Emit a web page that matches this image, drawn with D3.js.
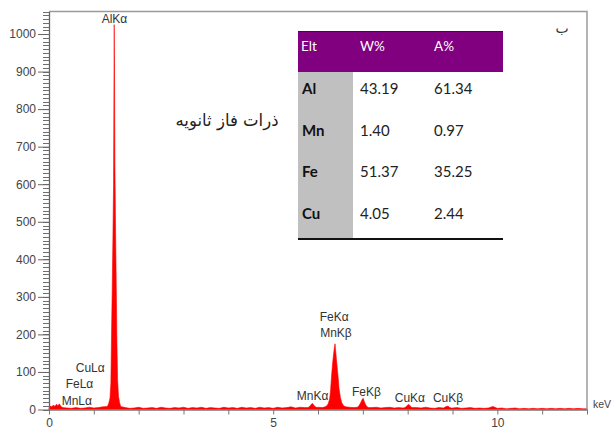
<!DOCTYPE html>
<html>
<head>
<meta charset="utf-8">
<script src="https://cdn.jsdelivr.net/npm/d3@7"></script>
<style>
  html, body { margin: 0; padding: 0; background: #fff; }
  svg { display: block; }
</style>
</head>
<body>
<svg id="chart" width="614" height="435"></svg>
<script>
// ---- EDS spectrum: [energy keV, counts] ----
const lowEnergy = [[0.00,4],[0.03,9],[0.06,7],[0.10,12],[0.13,8],[0.17,14],[0.20,10],[0.23,15],[0.26,9],[0.30,5]];
const continuumLow = [[0.4,4],[0.5,3],[0.6,5],[0.7,3],[0.8,4],[0.9,6],[1.0,4],[1.1,5],[1.2,7]];
const alKa = [[1.30,8],[1.33,15],[1.36,30],[1.38,70],[1.395,200],[1.41,320],[1.425,450],[1.44,600],
  [1.45,900],[1.455,1025],[1.46,930],[1.47,650],[1.485,480],[1.50,330],[1.515,180],[1.53,80],
  [1.55,35],[1.575,18],[1.60,8]];
const continuumMid = [[1.7,5],[1.8,3],[1.9,4],[2.0,6],[2.1,3],[2.2,4],[2.3,5],[2.4,3],[2.5,6],[2.6,4],
  [2.7,3],[2.8,5],[2.9,4],[3.0,6],[3.1,3],[3.2,5],[3.3,4],[3.4,6],[3.5,3],[3.6,5],[3.7,4],[3.8,3],
  [3.9,6],[4.0,4],[4.1,5],[4.2,3],[4.3,6],[4.4,4],[4.5,5],[4.6,3],[4.7,6],[4.8,4],[4.9,5],[5.0,3],
  [5.1,6],[5.2,4],[5.3,5],[5.4,7],[5.5,4],[5.6,6],[5.7,5],[6.0,6],[6.1,5],[6.7,6],[6.8,5]];
const mnKa = [[5.78,5],[5.82,9],[5.85,14],[5.88,16],[5.91,11],[5.94,7],[5.98,5]];
const feKa = [[6.16,7],[6.20,10],[6.23,16],[6.26,28],[6.28,50],[6.30,85],[6.32,115],[6.34,140],
  [6.36,160],[6.38,175],[6.39,162],[6.41,135],[6.43,110],[6.45,85],[6.47,55],[6.50,32],[6.53,18],
  [6.57,10],[6.62,7]];
const feKb = [[6.88,6],[6.92,11],[6.96,20],[6.99,28],[7.01,30],[7.03,22],[7.06,13],[7.09,8],[7.12,5]];
const continuumHigh = [[7.2,5],[7.3,6],[7.4,4],[7.5,5],[7.6,6],[7.7,4],[7.8,5],[7.9,4],
  [8.2,5],[8.3,4],[8.4,6],[8.5,4],[8.6,3],[8.7,5],[9.0,4],[9.1,5],[9.2,3],[9.3,4],[9.4,5],[9.5,3],
  [9.6,4],[9.7,3],[9.8,4],[9.9,8],[10.0,3],[10.1,4],[10.2,2],[10.3,3],[10.4,4],[10.5,2],[10.6,3],
  [10.7,2],[10.8,3],[10.9,2],[11.0,3],[11.1,2],[11.2,3],[11.3,2],[11.4,3],[11.5,2],[11.6,3],
  [11.7,2],[11.8,3],[11.9,2],[12.0,2]];
const cuKa = [[7.94,5],[7.98,9],[8.01,13],[8.04,12],[8.07,7],[8.10,5]];
const cuKb = [[8.80,4],[8.86,8],[8.90,9],[8.94,5],[8.98,4]];

// ---- peak labels: [text, keV, counts] (anchor position of the label) ----
const peakLabels = [
  ["AlKα", 1.46, 1030],
  ["CuLα", 0.92, 100],
  ["FeLα", 0.68, 56],
  ["MnLα", 0.62, 13],
  ["FeKα", 6.36, 237],
  ["MnKβ", 6.40, 192],
  ["MnKα", 5.88, 24],
  ["FeKβ", 7.08, 35],
  ["CuKα", 8.05, 21],
  ["CuKβ", 8.90, 19]
];

// ---- composition table ----
const tableHeader = ["Elt", "W%", "A%"];
const elements = ["Al", "Mn", "Fe", "Cu"];
const weightPct = [43.19, 1.40, 51.37, 4.05];
const atomicPct = [61.34, 0.97, 35.25, 2.44];

const yMajorTicks = [0,100,200,300,400,500,600,700,800,900,1000];
const xLabelTicks = [0, 5, 10];

(function draw() {
  const svg = d3.select("#chart");
  const mLeft = 49, mRight = 587, mTop = 11.5, mBottom = 409.5;
  const x = d3.scaleLinear().domain([0, 12]).range([mLeft, mRight]);
  const y = d3.scaleLinear().domain([0, 1060]).range([mBottom, mTop]);
  const labelFont = "12px 'Liberation Sans', Arial, sans-serif";

  const spectrum = [].concat(lowEnergy, continuumLow, alKa, continuumMid, mnKa, feKa, feKb,
    continuumHigh, cuKa, cuKb).sort((a, b) => a[0] - b[0]);

  // spectrum area
  svg.append("path")
    .datum(spectrum)
    .attr("fill", "#ff0000")
    .attr("stroke", "#ff0000")
    .attr("stroke-width", 0.6)
    .attr("d", d3.area().x(d => x(d[0])).y0(y(0)).y1(d => y(d[1])));

  // frame (top and right)
  svg.append("path")
    .attr("d", `M${mLeft},${mTop}H${mRight}V${mBottom}`)
    .attr("fill", "none").attr("stroke", "#9a9a9a").attr("stroke-width", 1.5);

  // y axis minor ticks every 10 counts
  const minorY = d3.range(0, 1061, 10);
  svg.append("g").attr("class", "minor-y")
    .selectAll("line").data(minorY).join("line")
    .attr("x1", mLeft - 6).attr("x2", mLeft)
    .attr("y1", d => Math.round(y(d)) + 0.5).attr("y2", d => Math.round(y(d)) + 0.5)
    .attr("stroke", "#6e6e6e").attr("stroke-width", 1)
    .attr("shape-rendering", "crispEdges");

  // y axis with labelled major ticks every 100
  const yMajor = svg.append("g").attr("transform", `translate(${mLeft},0)`)
    .call(d3.axisLeft(y).tickValues(yMajorTicks).tickSize(11).tickSizeOuter(0).tickPadding(2)
      .tickFormat(d3.format("d")));
  yMajor.select(".domain").attr("stroke", "#666").attr("stroke-width", 1.3);
  yMajor.selectAll(".tick line").attr("stroke", "#666");
  yMajor.selectAll("text").attr("fill", "#444").style("font", labelFont);

  // x axis: ticks every 1 keV, labels at 0, 5, 10
  const xAxis = svg.append("g").attr("transform", `translate(0,${mBottom})`)
    .call(d3.axisBottom(x).ticks(12).tickSize(5).tickSizeOuter(0).tickPadding(4)
      .tickFormat(d => xLabelTicks.includes(d) ? d : ""));
  xAxis.select(".domain").attr("stroke", "#777").attr("stroke-width", 1.3);
  xAxis.selectAll(".tick line").attr("stroke", "#777");
  xAxis.selectAll("text").attr("fill", "#444").style("font", labelFont);

  svg.append("text").attr("x", 593).attr("y", 408).text("keV")
    .attr("fill", "#444").style("font", "10.5px 'Liberation Sans', Arial, sans-serif");

  // peak labels
  svg.append("g").selectAll("text").data(peakLabels).join("text")
    .attr("x", d => x(d[1])).attr("y", d => y(d[2]))
    .attr("text-anchor", "middle")
    .attr("fill", "#333")
    .style("font", labelFont)
    .text(d => d[0]);

  // Persian captions
  svg.append("text").attr("x", 227).attr("y", 126).attr("text-anchor", "middle")
    .attr("fill", "#222").style("font", "16.5px 'DejaVu Sans', 'Noto Sans', sans-serif")
    .text("ذرات فاز ثانویه");
  svg.append("text").attr("x", 562).attr("y", 33).attr("text-anchor", "middle")
    .attr("fill", "#333").style("font", "14px 'DejaVu Sans', 'Noto Sans', sans-serif")
    .text("ب");

  // composition table
  const tx = 298, tw = 205, headTop = 31.5, headBot = 72, tBot = 238, colW = 55;
  const colX = [302, 360, 434];
  const rowY = d3.scaleLinear().domain([0, 1]).range([94, 135.5]);
  const tbl = svg.append("g");
  tbl.append("rect").attr("x", tx).attr("y", headBot).attr("width", tw).attr("height", tBot - headBot).attr("fill", "#fff");
  tbl.append("rect").attr("x", tx).attr("y", headTop).attr("width", tw).attr("height", headBot - headTop).attr("fill", "#800080");
  tbl.append("rect").attr("x", tx).attr("y", headBot).attr("width", colW).attr("height", tBot - headBot).attr("fill", "#c0c0c0");
  tbl.append("line").attr("x1", tx).attr("x2", tx + tw).attr("y1", headTop).attr("y2", headTop).attr("stroke", "#222").attr("stroke-width", 1);
  tbl.append("line").attr("x1", tx).attr("x2", tx + tw).attr("y1", tBot + 1).attr("y2", tBot + 1).attr("stroke", "#111").attr("stroke-width", 2);
  tbl.selectAll(".hd").data(tableHeader).join("text")
    .attr("x", (d, i) => colX[i] - (i === 0 ? 1 : 0)).attr("y", 51)
    .attr("fill", "#fff").style("font", "13.5px Lato, 'Open Sans', sans-serif").text(d => d);
  elements.forEach((el, i) => {
    const yy = rowY(i);
    tbl.append("text").attr("x", colX[0]).attr("y", yy).attr("fill", "#111")
      .style("font", "bold 15px Lato, 'Open Sans', sans-serif").text(el);
    tbl.append("text").attr("x", colX[1]).attr("y", yy).attr("fill", "#222")
      .style("font", "15px Lato, 'Open Sans', sans-serif").text(weightPct[i].toFixed(2));
    tbl.append("text").attr("x", colX[2]).attr("y", yy).attr("fill", "#222")
      .style("font", "15px Lato, 'Open Sans', sans-serif").text(atomicPct[i].toFixed(2));
  });
})();
</script>
</body>
</html>
